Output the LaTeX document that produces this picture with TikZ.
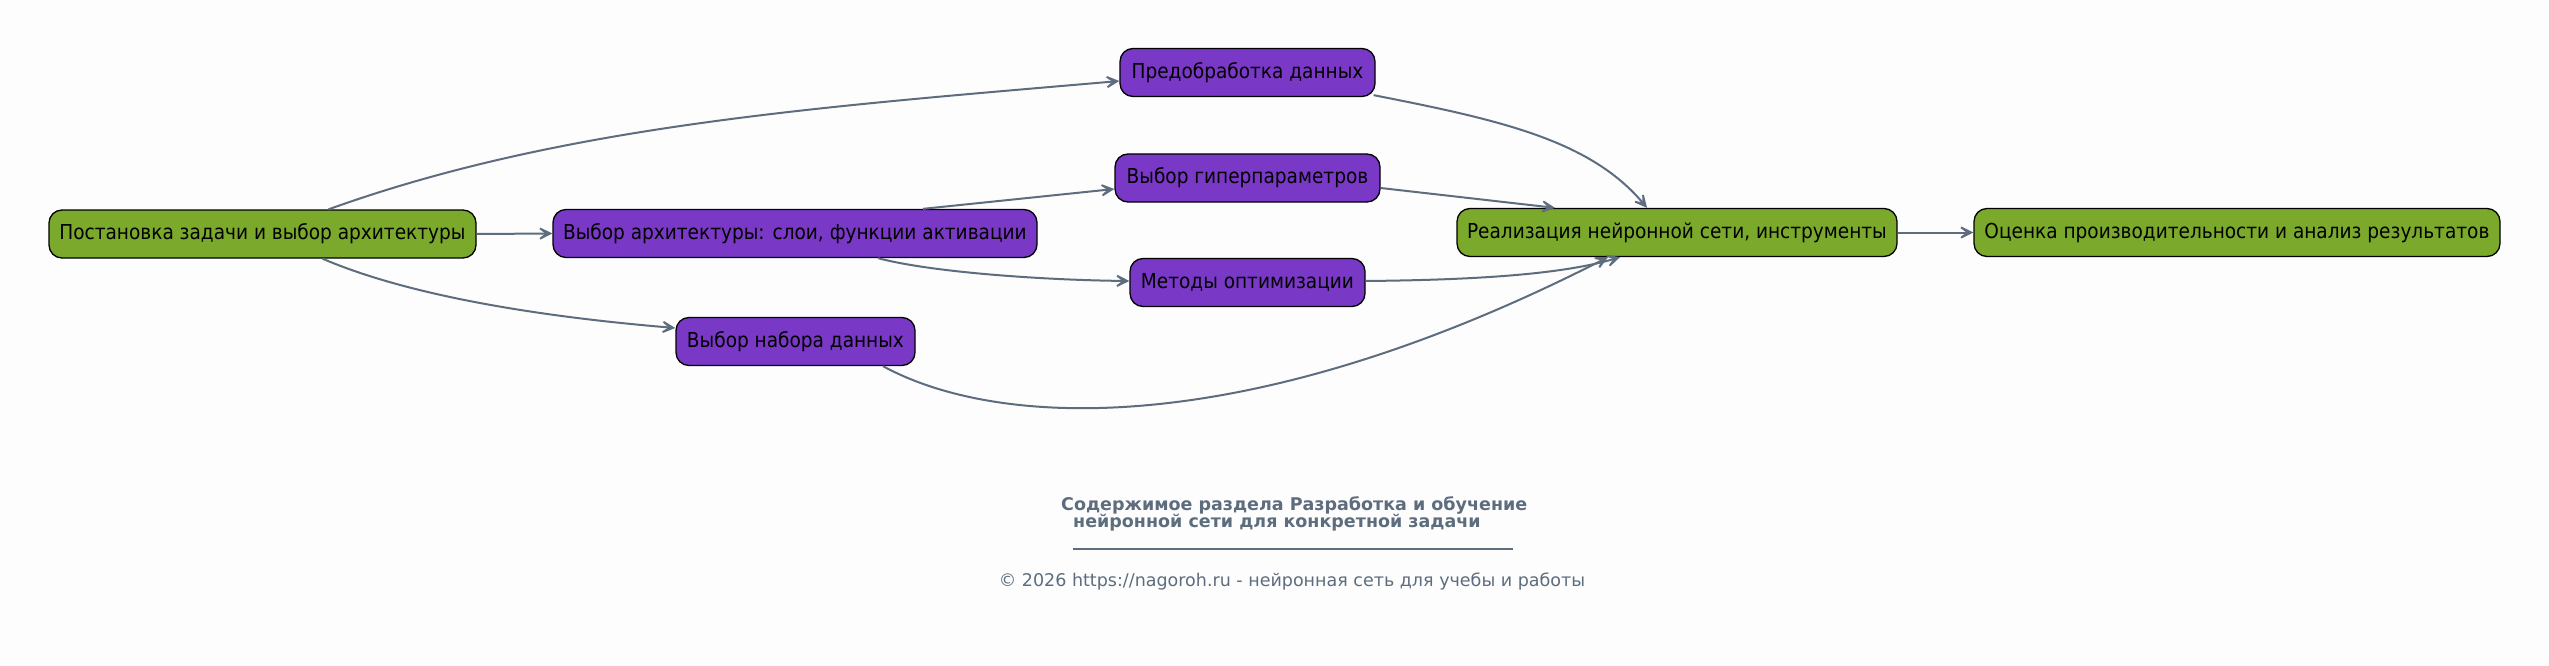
\documentclass[tikz,border=0pt]{standalone}
\usepackage{fontspec}
\setmainfont{DejaVu Sans}
\newfontfamily\condfont{DejaVu Sans Condensed}
\usetikzlibrary{arrows.meta}
\definecolor{bg}{RGB}{253,253,253}
\definecolor{nodegreen}{RGB}{123,169,44}
\definecolor{nodepurple}{RGB}{122,56,198}
\definecolor{edgegray}{RGB}{93,109,126}
\begin{document}
\begin{tikzpicture}[x=1pt,y=-1pt,
  box/.style={draw=black, line width=1.3pt, rounded corners=13pt, minimum height=48pt, inner xsep=6pt, inner ysep=4pt, font=\condfont\fontsize{20.6}{24}\selectfont, text=black},
  gbox/.style={box, fill=nodegreen},
  pbox/.style={box, fill=nodepurple},
  conn/.style={draw=edgegray, line width=2pt, -{Stealth[length=20pt,width=20pt,inset=13pt]}},
  ttl/.style={text=edgegray, font=\bfseries\fontsize{17.5}{20}\selectfont, inner sep=0pt},
  foot/.style={text=edgegray, font=\fontsize{17.5}{20}\selectfont, inner sep=0pt}
]
\useasboundingbox (0,0) rectangle (2549,666);
\fill[bg] (0,0) rectangle (2549,666);

\node[gbox, minimum width=427pt] (n1) at (262.5,234) {Постановка задачи и выбор архитектуры};
\node[pbox, minimum width=484pt] (n2) at (795,233.5) {Выбор архитектуры: слои, функции активации};
\node[pbox, minimum width=255pt] (n3) at (1247.5,72.5) {Предобработка данных};
\node[pbox, minimum width=265pt] (n4) at (1247.5,178) {Выбор гиперпараметров};
\node[pbox, minimum width=235pt] (n5) at (1247.5,282.5) {Методы оптимизации};
\node[pbox, minimum width=239pt] (n6) at (795.5,341.5) {Выбор набора данных};
\node[gbox, minimum width=440pt] (n7) at (1677,232.5) {Реализация нейронной сети, инструменты};
\node[gbox, minimum width=526pt] (n8) at (2237,232.5) {Оценка производительности и анализ результатов};

\draw[conn] ([xshift=66pt]n1.north) .. controls (563,125) and (820,107) .. ([yshift=-8.5pt]n3.west);
\draw[conn] (n1.east) -- (n2.west);
\draw[conn] ([xshift=60pt]n1.south) .. controls (400,292) and (520,315) .. ([yshift=13.5pt]n6.west);
\draw[conn] ([xshift=128pt]n2.north) -- ([yshift=-11pt]n4.west);
\draw[conn] ([xshift=83pt]n2.south) .. controls (930,272) and (1040,280) .. ([yshift=1.5pt]n5.west);
\draw[conn] ([xshift=-2pt,yshift=2pt]n3.south east) .. controls (1500,120) and (1590,140) .. ([xshift=-30pt]n7.north);
\draw[conn] ([yshift=-10pt]n4.east) -- ([xshift=-122pt]n7.north);
\draw[conn] ([yshift=1.5pt]n5.east) .. controls (1470,280) and (1560,275) .. ([xshift=-57pt]n7.south);
\draw[conn] ([xshift=87.5pt]n6.south) .. controls (1000,430) and (1250,440) .. ([xshift=-69pt]n7.south);
\draw[conn] (n7.east) -- (n8.west);

\node[ttl, anchor=west] (t1) at (1061,505) {Содержимое раздела Разработка и обучение};
\node[ttl, anchor=west] (t2) at (1073,523) {нейронной сети для конкретной задачи};
\coordinate (r1) at (1073,549);
\coordinate (r2) at (1513,549);
\draw[edgegray, line width=1.2pt] (r1) -- (r2);
\node[foot] (f) at (1292,582) {© 2026 https://nagoroh.ru - нейронная сеть для учебы и работы};
\end{tikzpicture}
\end{document}
